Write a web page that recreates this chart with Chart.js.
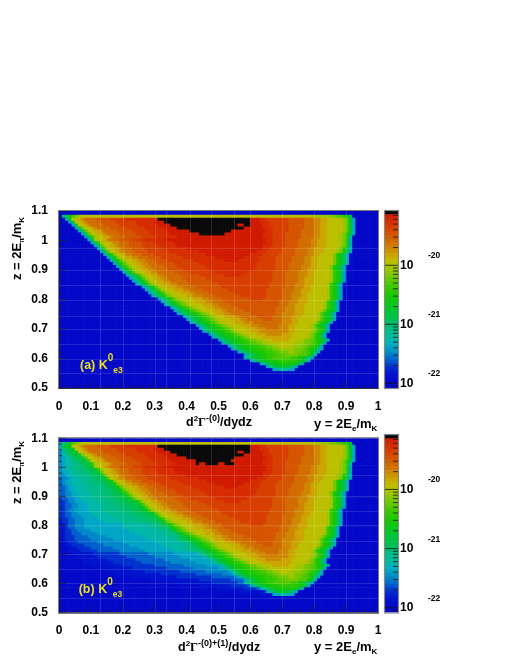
<!DOCTYPE html>
<html><head><meta charset="utf-8">
<style>html,body{margin:0;padding:0;background:#fff;width:510px;height:660px;overflow:hidden}canvas{position:absolute;display:block}</style>
<script src="https://cdn.jsdelivr.net/npm/chart.js@4"></script></head><body>
<canvas id="mainA" width="510" height="246" style="left:0;top:190px"></canvas>
<canvas id="barA" width="135" height="246" style="left:375px;top:190px"></canvas>
<canvas id="mainB" width="510" height="240" style="left:0;top:420px"></canvas>
<canvas id="barB" width="135" height="240" style="left:375px;top:420px"></canvas>
<script>
// Cell levels, one run-length row per z bin from z=1.09 downward.
// a..z = rising level on the colour scale, Z = above scale (black). Missing counts mean 1.
const rowsA = [
"a100","aiknpqrs73r5q2p2onk",
"a2hms2tuv4w4x5y10Z29z3y2x7w5v3u2t2s5rplg",
"a3gls2tuv4w5x6y6z3Z27z3y3x6w5v3u2t2s5rplg",
"a4gls2tuv4w5x6y6z4Z21z2Z2z4y2x6w5v3u2t2s5rplg",
"a5gkqs2tuv4w5x6y6z4Z21z6y3x5w5v3u2t2s5rplg",
"a6gkps2t2uv4w5x5y6z7Z13z11y2x5w4v4u2t2s5rplg",
"a7gkps2t2uv4w5x5y6z9Z8z12y3x4w5v4u2t2s4rqnkg",
"a8gkors2t2uv4w5x5y6z27y3x4w5v4u2t2s4rqnh",
"a9gkrs2tuv3w4x4y6z32y2x4w4v4u2t3s4rqng",
"a10gkors2tu2v3w4x4y6z29y2x4w4v4u2t3s4rqng",
"a11gkps2t2uv3w4x5y6z27y3x4w4v4u2t3s4rqng",
"a12gkps2t2uv3w4x6y7z24y2x4w4v4u2t3s4rqnkg",
"a13gkps2tu2v3w4x7y9z18y3x5w4v4u2t3s4rqnkg",
"a14gknqs2tu2v3w4x7y9z14y4x5w5v4u2t2s4qnmkg",
"a15gknqs2t2u2v3w4x7y10z9y5x5w5v4u2t2s5qnmkg",
"a16gknprs2t2u2v3w4x8y10z4y7x5w5v4u2t2s5qnmkg",
"a17gknprs2t2u2v3w5x8y18x6w4v5u2t2s5qnmkg",
"a18gknprs2t2u2v4w4x9y16x6w4v4u3t2s4qnmkg",
"a19gknprs2t2u2v4w5x8y14x7w4v4u2t3s4qnmkg",
"a20gkmprs2t2u2v5w5x8y10x8w4v4u3t2s5ronkg",
"a21gikmprs2t2u2v5w6x8y5x10w4v4u3t2s5ronkg",
"a22gikmprs2t2u2v5w7x21w4v4u2t3s5ronkg",
"a23gikmprs2t2u2v5w8x19w4v4u2t3s5ronkg",
"a24gikmprs2t3u2v4w9x16w5v3u3t3s4ronkg",
"a26gikmprs2t3u2v4w8x15w5v3u3t2s5ronkg",
"a27gikmprs3t3u2v4w8x12w5v4u2t3s5ronkg",
"a28gikmoqrs3t3u2v4w8x10w5v3u3t2s6ronkg",
"a29gikmoqrs4t2u3v4w8x8w5v3u3t2s6ronkg",
"a31gikmoqrs4t3u2v4w9x4w6v3u2t3s6ronkg",
"a32gikmopqrs3t3u2v4w17v3u3t3s5ronkg",
"a33gikmopqrs4t3u2v4w15v3u2t3s6ronkg",
"a35gikmopqrs3t3u2v5w12v3u3t3s6ronkg",
"a36giklmopqrs3t3u2v5w10v3u3t3s5rpnmkg",
"a37giklmnopqrs2t3u2v6w8v2u4t3s4rpnmkg",
"a39giklmnopqrs3t3u2v5w5v3u3t3s5rpnmkg",
"a40giklmnopqrs4t3u2v5w3v3u3t2s6rpnmkg",
"a41giklmnopqrs4t3u3v9u3t2s5rpnmkg",
"a43giklmnopqrs4t3u3v6u3t2s5rpnmkg",
"a44giklmn2opqrs4t3u3v4u3t2s5rqonkg",
"a45giklmn2opqrs4t3u9t2s5rqonkg",
"a47giklmn2opqrs4t3u5t3s5rqonkg",
"a48giklmn2o2pqrs4t9s5rqonkg",
"a50giklmn2o2pq2r2s3t5s3r2q2ponmkg",
"a51giklmn2o2p2q2r2s8r3q2ponlg",
"a53giklmn3o2p2q2r2s4r3q2ponlg",
"a54giklmn3o3p2q2r5q3ponlig",
"a56giklmn3o3p2q3r2q2p2omkg",
"a58giklmn2o3p3q4p3nlg",
"a58hjklmn2o2p6o2nmkig",
"a60giklm2n3o6nmkg",
"a63giklm2n5mkg",
"a65gikl4kig",
"a67g2h3g2"
];
// Extra content of panel (b): the radiative tail and its extra black cells, same row order.
const tailB = [
"","i","gkm","gikl","fhjkl","fhijkl",
"fghijkla33Za13Z","fghhijkla35Za8Z2","fghhiijkla34Za2Z4a2Z3",
"fghhiijjklmn","fghhiiijjkklmn","fgghhiiijjkklmn","ffghhhiiijjkklmn",
"effghhhiiijjkklmn","efgghhhiiijjjkklmn","efgghhhhiiijjjkklmn",
"e2fg2h4i4j2k2l2m","e2fg2h4i4j3k2l2m","e2f2g2h4i4j3k2l2m","e2f2g2h4i4j3k3l2m",
"de2f2g2h4i4j3k3l2m","d2ef2g3h4i4j3k3l2m","d2e2f2g3h4i4j4k3l2m","d2e2f2g3h5i4j4k3l2m",
"d2ef2g4h5i5j4k3l2m","d2e2f2g4h5i6j4k3l2m","d2e2f3g4h6i6j4k3l2","cd2e2f3g5h6i6j4k2l2",
"cd2e2f3g6h6i6j4k2l2","c2de2f3g12h8i3jkl","c2de2f3g12h9i3j2kl","c2d2e2f4g12h9i3j2kl",
"c2d2e3f5g12h9i3j2kl","c2d3e4f6g11h8i3j2kl","bcd3e5f7g11h8ijkl","b2cd3e6f8g11h7i2jkl",
"b2c2d4e6f8g10h7i2jkl","b3c3d4e7f8g9h5i2j2kl","b3c4d5e7f8g9h5i2j2kl","b4c7d8e9f8g7hijkl",
"b5c7d9e9f8g7hijk","b7c8d9e9f8g6hijk","b8c9d9e9f8g5hijk","b10c10d10e9f7g5hij",
"b13c10d11e8f8g2hij","a3b12c12d11e8f7g2hi","a6b12c14d11e8f5g2h","a10b13c14d11e7f4g2h",
"a15b14c15d10e5f2gh","a22b14c12d8e2fg","a30b14c10d5ef","a38b12c8d4e","a46b10c8d","a55b8c4","a60b12"
];
const levelCodes = "abcdefghijklmnopqrstuvwxyzZ";
const xTickValues = [0,0.1,0.2,0.3,0.4,0.5,0.6,0.7,0.8,0.9,1];
const zTickValues = [0.5,0.6,0.7,0.8,0.9,1,1.1];
const colorDecades = [-22,-21,-20];
const colorMinExp = -22.08, colorMaxExp = -19.08;
const seamX = [0.13,0.2,0.3,0.335,0.41,0.475,0.55,0.6,0.7,0.8,0.9];
const seamZ = [0.975,0.9,0.85,0.8,0.745,0.7,0.65,0.6,0.55];

// colour scale, bottom to top
const colorStops = [[0,4,8,200],[.04,4,10,202],[.08,0,20,205],[.12,0,50,205],[.16,0,100,205],[.2,0,140,200],[.24,0,170,195],[.28,0,185,165],[.32,0,188,135],[.36,0,190,110],[.4,0,193,70],[.44,0,195,50],[.48,10,197,25],[.52,25,200,0],[.56,50,200,0],[.6,90,200,0],[.64,125,200,0],[.68,165,198,0],[.72,198,188,0],[.76,205,155,0],[.8,207,125,0],[.84,210,100,0],[.88,215,76,0],[.92,215,55,0],[.96,213,36,0],[1,205,20,0]];
function colorOfExp(e){
  const t=(e-colorMinExp)/(colorMaxExp-colorMinExp);
  if(t>0.985) return '#0a0a0a';
  let i=0; while(i<colorStops.length-2 && colorStops[i+1][0]<t) i++;
  const a=colorStops[i],b=colorStops[i+1],f=Math.max(0,Math.min(1,(t-a[0])/(b[0]-a[0])));
  return `rgb(${[1,2,3].map(k=>Math.round(a[k]+(b[k]-a[k])*f)).join(',')})`;
}
function expOfLevel(l){ return l===26 ? colorMaxExp-0.01 : colorMinExp+2.95*l/25; }
function decodeRow(s){
  const out=new Array(100).fill(0); let p=0;
  for(const m of (s||'').matchAll(/([a-zZ])(\d*)/g)){
    const n=m[2]?+m[2]:1, l=levelCodes.indexOf(m[1]);
    for(let k=0;k<n&&p<100;k++) out[p++]=l;
  }
  return out;
}
function buildCells(rows,tail){
  const data=[],colors=[];
  for(let j=0;j<60;j++){
    const a=decodeRow(rows[j]), b=tail?decodeRow(tail[j]):null, zb=109-j;
    const lo=(zb-0.4)/100, hi=j===0?1.1:(zb+0.6)/100;
    for(let i=0;i<100;i++){
      const l=b?Math.max(a[i],b[i]):a[i];
      data.push({x:(i+0.5)/100,y:[lo,hi]});
      colors.push(colorOfExp(expOfLevel(l)));
    }
  }
  return {data,colors};
}
const F='"Liberation Sans", Arial, sans-serif', S='"Liberation Serif", serif';
Chart.defaults.font.family=F; Chart.defaults.font.weight='bold'; Chart.defaults.font.size=12; Chart.defaults.color='#000';
Chart.defaults.animation=false;

function drawRuns(ctx,x,y,runs,angle,color){
  ctx.save(); ctx.translate(x,y); if(angle) ctx.rotate(angle);
  ctx.fillStyle=color||'#000'; ctx.textBaseline='alphabetic'; ctx.textAlign='left';
  let c=0;
  for(const r of runs){ ctx.font=`${r.w||'bold'} ${r.s}px ${r.f||F}`; ctx.fillText(r.t,c,r.d||0); c+=ctx.measureText(r.t).width; }
  ctx.restore();
}
function zTitle(){return [{t:'z = 2E',s:13},{t:'π',s:9,f:S,d:3},{t:'/m',s:13},{t:'K',s:8,d:3}];}
function yTitle(){return [{t:'y = 2E',s:13},{t:'e',s:8,d:3},{t:'/m',s:13},{t:'K',s:8,d:3}];}

function panel(id,canvasTop,plotTop,plotH,cells,cfg){
  const H=document.getElementById(id).height;
  const dec={id:'dec',afterDraw(ch){
    const {ctx,chartArea:a,scales:{x,y}}=ch;
    ctx.save();
    ctx.strokeStyle='rgba(255,255,255,0.13)'; ctx.lineWidth=1; ctx.beginPath();
    for(const v of seamX){const p=Math.round(x.getPixelForValue(v))+.5; ctx.moveTo(p,a.top); ctx.lineTo(p,a.bottom);}
    for(const v of seamZ){const p=Math.round(y.getPixelForValue(v))+.5; ctx.moveTo(a.left,p); ctx.lineTo(a.right,p);}
    ctx.stroke();
    ctx.strokeStyle='#222'; ctx.lineWidth=0.8;
    ctx.beginPath();
    for(let k=0;k<=50;k++){const v=k/50,p=x.getPixelForValue(v),L=k%5===0?7:3; ctx.moveTo(p,a.bottom); ctx.lineTo(p,a.bottom-L);}
    for(let k=0;k<=30;k++){const v=0.5+k/50,p=y.getPixelForValue(v),L=k%5===0?7:3; ctx.moveTo(a.left,p); ctx.lineTo(a.left+L,p);}
    ctx.stroke();
    ctx.strokeStyle='#777'; ctx.lineWidth=1;
    ctx.strokeRect(a.left-.5,a.top-.5,a.right-a.left+1,a.bottom-a.top+1);
    ctx.strokeStyle='#333';ctx.beginPath();ctx.moveTo(a.left-.5,a.bottom+.5);ctx.lineTo(a.right+.5,a.bottom+.5);ctx.stroke();
    ctx.restore();
    drawRuns(ctx,21,plotTop-canvasTop+69,zTitle(),-Math.PI/2);
    drawRuns(ctx,314,cfg.yTitleY-canvasTop,yTitle());
    drawRuns(ctx,cfg.xLabelX,cfg.xLabelY-canvasTop,cfg.xLabel);
    drawRuns(ctx,cfg.tagX,cfg.tagY-canvasTop,cfg.tag,0,'#e8e020');
  }};
  return new Chart(document.getElementById(id),{
    type:'bar',
    data:{datasets:[{data:cells.data,backgroundColor:cells.colors,borderWidth:0,barPercentage:1,categoryPercentage:1,grouped:false}]},
    options:{responsive:false,events:[],
      layout:{padding:{left:0,right:132,top:plotTop-canvasTop,bottom:0}},
      plugins:{legend:{display:false},tooltip:{enabled:false}},
      scales:{
        x:{type:'linear',offset:false,min:0,max:1,grid:{display:false,drawTicks:false},border:{display:false},
           afterBuildTicks:s=>{s.ticks=xTickValues.map(value=>({value}));},
           afterFit:s=>{s.height=H-(plotTop-canvasTop)-plotH;},
           ticks:{padding:11,maxRotation:0,autoSkip:false,callback:v=>String(+(+v).toFixed(1))}},
        y:{type:'linear',min:0.5,max:1.1,grid:{display:false,drawTicks:false},border:{display:false},
           afterBuildTicks:s=>{s.ticks=zTickValues.map(value=>({value}));},
           afterFit:s=>{s.width=59;},
           ticks:{padding:11,autoSkip:false,callback:v=>String(+(+v).toFixed(1))}}
      }},
    plugins:[dec]});
}
function colorBar(id,canvasTop,plotTop,plotH){
  const H=document.getElementById(id).height, bands=[];
  for(let i=0;i<50;i++){
    const e0=colorMinExp+(colorMaxExp-colorMinExp)*i/50, e1=colorMinExp+(colorMaxExp-colorMinExp)*(i+1)/50;
    bands.push({data:[[Math.pow(10,e0),Math.pow(10,e1)]],backgroundColor:colorOfExp((e0+e1)/2),borderWidth:0,barPercentage:1,categoryPercentage:1,grouped:false});
  }
  const dec={id:'dec2',afterDraw(ch){
    const {ctx,chartArea:a,scales:{y}}=ch;
    ctx.save(); ctx.strokeStyle='#111'; ctx.lineWidth=0.8; ctx.beginPath();
    for(let d=-23;d<=-19;d++) for(let m=1;m<10;m++){
      const e=d+Math.log10(m); if(e<colorMinExp||e>colorMaxExp) continue;
      const p=y.getPixelForValue(Math.pow(10,e)),L=m===1?a.right-a.left:5;
      ctx.moveTo(a.right,p); ctx.lineTo(a.right-L,p);
    }
    ctx.stroke();
    ctx.strokeStyle='#888'; ctx.lineWidth=1.2; ctx.strokeRect(a.left-.5,a.top-.5,a.right-a.left+1,a.bottom-a.top+1);
    ctx.restore();
    for(const d of colorDecades){
      drawRuns(ctx,53,y.getPixelForValue(Math.pow(10,d))-7,[{t:String(d),s:8.5}]);
    }
  }};
  return new Chart(document.getElementById(id),{
    type:'bar',data:{labels:[''],datasets:bands},
    options:{responsive:false,events:[],
      layout:{padding:{left:10,right:0,top:plotTop-canvasTop,bottom:0}},
      plugins:{legend:{display:false},tooltip:{enabled:false}},
      scales:{
        x:{display:true,grid:{display:false,drawTicks:false},border:{display:false},ticks:{display:false},afterFit:s=>{s.height=H-(plotTop-canvasTop)-plotH;}},
        y:{type:'logarithmic',position:'right',min:Math.pow(10,colorMinExp),max:Math.pow(10,colorMaxExp),
           grid:{display:false,drawTicks:false},border:{display:false},
           afterBuildTicks:s=>{s.ticks=colorDecades.map(d=>({value:Math.pow(10,d),major:true}));},
           afterFit:s=>{s.width=112;},
           ticks:{padding:2,autoSkip:false,callback:()=> '10'}}
      }},
    plugins:[dec]});
}
panel('mainA',190,211,177,buildCells(rowsA,null),{
  yTitleY:428,xLabelX:186,xLabelY:426,
  xLabel:[{t:'d',s:12.5},{t:'2',s:8,d:-5},{t:'Γ',s:12.5,f:S},{t:'-(0)',s:9,d:-5},{t:'/dydz',s:12.5}],
  tagX:80,tagY:369,tag:[{t:'(a) K',s:12.5},{t:'0',s:10,d:-8},{t:'e3',s:8.5,d:4}]});
colorBar('barA',190,211,177);
panel('mainB',420,435,177.5,buildCells(rowsA,tailB),{
  yTitleY:651,xLabelX:178,xLabelY:651,
  xLabel:[{t:'d',s:12.5},{t:'2',s:8,d:-5},{t:'Γ',s:12.5,f:S},{t:'-(0)+(1)',s:9,d:-5},{t:'/dydz',s:12.5}],
  tagX:78.7,tagY:592.7,tag:[{t:'(b) K',s:12.5},{t:'0',s:10,d:-8},{t:'e3',s:8.5,d:4}]});
colorBar('barB',420,435,177.5);
</script></body></html>
